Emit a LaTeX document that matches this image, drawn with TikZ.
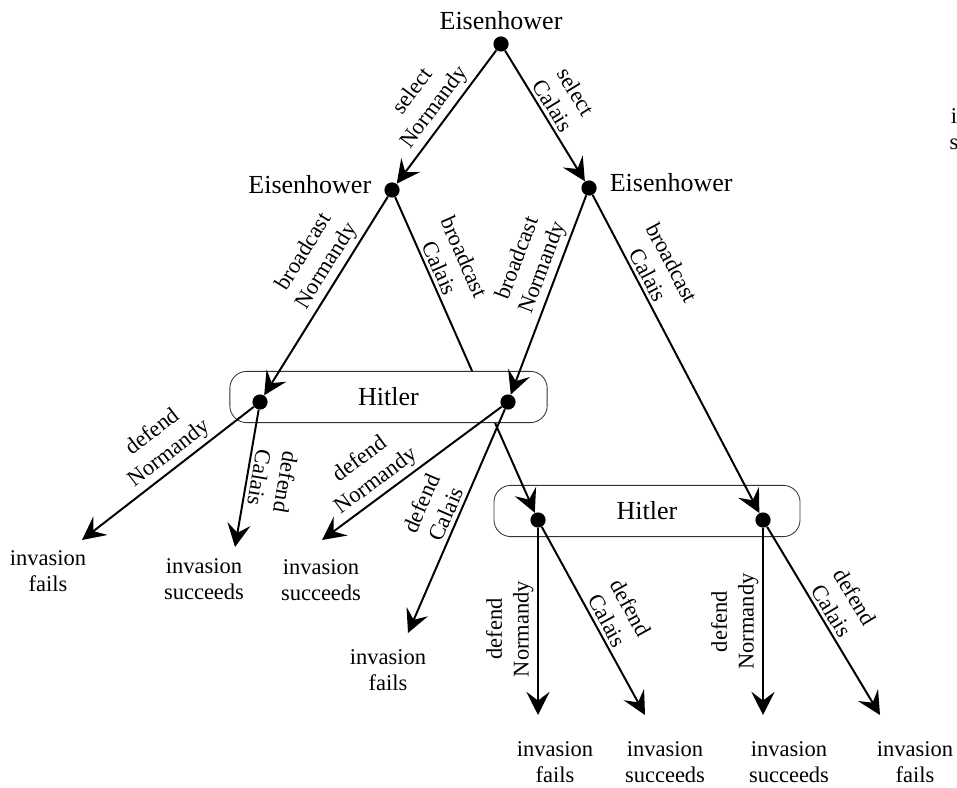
\documentclass[tikz,border=0pt]{standalone}
\usepackage{fontspec}
\setmainfont{Liberation Serif}
\usetikzlibrary{arrows.meta,positioning}

\begin{document}
\begin{tikzpicture}[x=0.025cm, y=-0.025cm,
  font=\fontsize{16}{18.5}\selectfont,
  dot/.style={circle, fill=black, inner sep=0pt, minimum size=0.38cm},
  move/.style={line width=1.4pt, -{Stealth[length=5.8mm, width=5.8mm, inset=2.2mm]}},
  infoset/.style={draw=black!80, line width=0.6pt, rounded corners=0.42cm, fill=white,
    inner sep=0pt, minimum height=1.28cm, font=\fontsize{18.5}{20}\selectfont},
  player/.style={font=\fontsize{18.5}{20}\selectfont, inner sep=1pt},
  lab/.style={align=center, inner sep=2.5pt, font=\fontsize{16}{19}\selectfont},
  leaf/.style={align=center, inner sep=0pt}]
  \useasboundingbox (0,0) rectangle (957,787);

  \node[infoset, minimum width=7.65cm] (hitB) at (647,511) {Hitler};

  \node[dot] (root) at (501,44) {};
  \node[dot] (eisL) at (392,190) {};
  \node[dot] (eisR) at (589,188) {};
  \node[dot] (hitBL) at (538,520) {};
  \node[dot] (hitBR) at (763,520) {};

  \node[player, above=3pt of root] (nRoot) {Eisenhower};
  \node[player, left=8pt of eisL, yshift=4pt] (nEisL) {Eisenhower};
  \node[player, right=8pt of eisR, yshift=4pt] (nEisR) {Eisenhower};

  \draw[move] (eisL) -- node[lab, pos=0.24, sloped, above] (bcL) {broadcast\\Calais} (hitBL);

  \node[infoset, minimum width=7.93cm] (hitA) at (388.5,397) {Hitler};
  \node[dot] (hitAL) at (260,402) {};
  \node[dot] (hitAR) at (508,402) {};

  \draw[move] (root) -- node[lab, midway, sloped, above] (sN) {select\\Normandy} (eisL);
  \draw[move] (root) -- node[lab, pos=0.47, sloped, above] (sC) {select\\Calais} (eisR);
  \draw[move] (eisL) -- node[lab, pos=0.39, sloped, above] (bnL) {broadcast\\Normandy} (hitAL);
  \draw[move] (eisR) -- node[lab, pos=0.39, sloped, above] (bnR) {broadcast\\Normandy} (hitAR);
  \draw[move] (eisR) -- node[lab, pos=0.27, sloped, above] (bcR) {broadcast\\Calais} (hitBR);

  \coordinate (t1) at (82,540);
  \coordinate (t2) at (235,547);
  \coordinate (t3) at (322,540);
  \coordinate (t4) at (408,633);
  \coordinate (t5) at (538,715);
  \coordinate (t6) at (645,715);
  \coordinate (t7) at (763,715);
  \coordinate (t8) at (880,715);

  \draw[move] (hitAL) -- node[lab, pos=0.44, sloped, above] (d1) {defend\\Normandy} (t1);
  \draw[move] (hitAL) -- node[lab, pos=0.48, sloped, allow upside down, above] (d2) {defend\\Calais} (t2);
  \draw[move] (hitAR) -- node[lab, pos=0.65, sloped, above] (d3) {defend\\Normandy} (t3);
  \draw[move] (hitAR) -- node[lab, pos=0.49, sloped, above] (d4) {defend\\Calais} (t4);
  \draw[move] (hitBL) -- node[lab, pos=0.54, rotate=90, anchor=south] (d5) {defend\\Normandy} (t5);
  \draw[move] (hitBL) -- node[lab, pos=0.53, sloped, above] (d6) {defend\\Calais} (t6);
  \draw[move] (hitBR) -- node[lab, midway, rotate=90, anchor=south] (d7) {defend\\Normandy} (t7);
  \draw[move] (hitBR) -- node[lab, pos=0.48, sloped, above] (d8) {defend\\Calais} (t8);

  \node[leaf] (o1) at (48,571) {invasion\\fails};
  \node[leaf] (o2) at (204,579) {invasion\\succeeds};
  \node[leaf] (o3) at (321,580) {invasion\\succeeds};
  \node[leaf] (o4) at (388,670) {invasion\\fails};
  \node[leaf] (o5) at (555,762) {invasion\\fails};
  \node[leaf] (o6) at (665,762) {invasion\\succeeds};
  \node[leaf] (o7) at (789,762) {invasion\\succeeds};
  \node[leaf] (o8) at (915,762) {invasion\\fails};

  \node[leaf] (frag) at (954,129) {i\\s};
\end{tikzpicture}
\end{document}
